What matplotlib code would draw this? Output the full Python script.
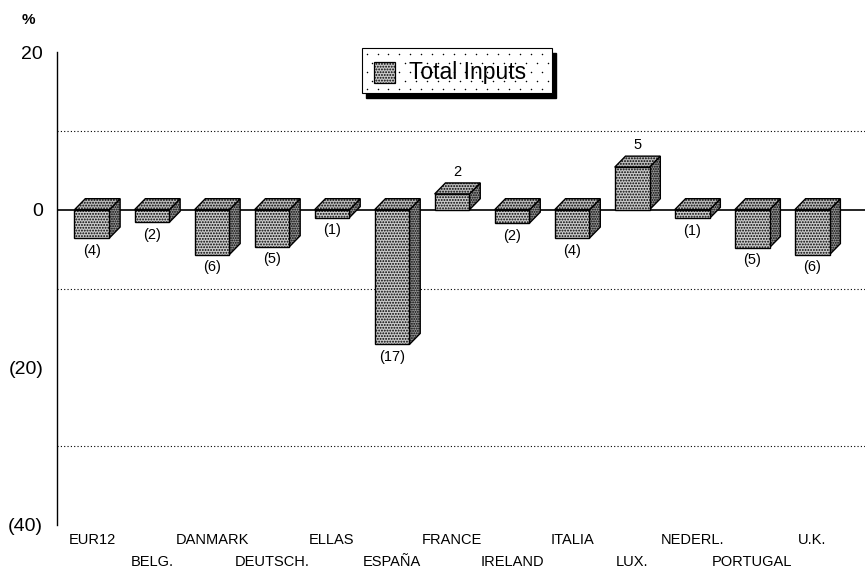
import numpy as np
import matplotlib.pyplot as plt
from matplotlib.patches import Polygon, Rectangle

# values (% change)
countries = ['EUR12', 'BELG.', 'DANMARK', 'DEUTSCH.', 'ELLAS', 'ESPAÑA', 'FRANCE',
             'IRELAND', 'ITALIA', 'LUX.', 'NEDERL.', 'PORTUGAL', 'U.K.']
total_inputs = [-3.6, -1.6, -5.7, -4.7, -1.0, -17.1, 2.0,
                -1.7, -3.6, 5.4, -1.1, -4.8, -5.7]
yticks = [20, 0, -20, -40]
ytick_labels = ['20', '0', '(20)', '(40)']

plt.rcParams['font.family'] = ['Liberation Sans', 'DejaVu Sans']
plt.rcParams['hatch.color'] = '#303030'
plt.rcParams['hatch.linewidth'] = 0.9

fig = plt.figure(figsize=(8.65, 5.73), dpi=100)
ax = fig.add_axes([0.066, 0.084, 0.934, 0.825])

w = 0.58      # bar width
dx = 0.18     # depth (x)
dy = 1.4      # depth (y)
front_col = '#cacaca'
side_col = '#949494'
top_col = '#bababa'

x = list(range(len(countries)))
ax.bar(x, total_inputs, width=w, color=front_col, edgecolor='black',
       linewidth=1.0, hatch='......', zorder=3)

for xi, v in zip(x, total_inputs):
    lo, hi = min(v, 0), max(v, 0)
    r = xi + w / 2
    side = Polygon([(r, lo), (r, hi), (r + dx, hi + dy), (r + dx, lo + dy)],
                   closed=True, facecolor=side_col, edgecolor='black',
                   linewidth=1.0, hatch='.......', zorder=2)
    top = Polygon([(xi - w / 2, hi), (r, hi), (r + dx, hi + dy),
                   (xi - w / 2 + dx, hi + dy)],
                  closed=True, facecolor=top_col, edgecolor='black',
                  linewidth=1.0, hatch='......', zorder=2)
    ax.add_patch(side)
    ax.add_patch(top)
    n = int(abs(v) + 0.5)
    if v < 0:
        ax.annotate('(%d)' % n, (xi, v), xytext=(0, -4), textcoords='offset points',
                    ha='center', va='top', fontsize=10.5)
    else:
        ax.annotate('%d' % n, (xi + dx / 2, v + dy), xytext=(0, 3),
                    textcoords='offset points', ha='center', va='bottom', fontsize=10.5)

# grid lines
for g in [10, -10, -30]:
    ax.axhline(g, color='black', linestyle=(0, (1, 2)), linewidth=0.8, zorder=1)
ax.axhline(0, color='black', linewidth=1.2, zorder=1)

ax.set_xlim(-0.58, 12.88)
ax.set_ylim(-40, 20)
ax.set_yticks(yticks)
ax.set_yticklabels(ytick_labels, fontsize=14)

# two staggered rows of country labels
ax.set_xticks(x[0::2])
ax.set_xticklabels(countries[0::2], fontsize=10.5)
ax.set_xticks(x[1::2], minor=True)
ax.set_xticklabels(countries[1::2], minor=True, fontsize=10.5)
ax.tick_params(axis='both', which='both', length=0)
ax.tick_params(axis='x', which='major', pad=6)
ax.tick_params(axis='x', which='minor', pad=22)
ax.tick_params(axis='y', pad=10)
for s in ['top', 'right', 'bottom']:
    ax.spines[s].set_visible(False)
ax.spines['left'].set_linewidth(1.0)

fig.text(0.025, 0.965, '%', fontsize=11, fontweight='bold', ha='left', va='center')

# legend box drawn by hand: dotted background and solid black shadow
lx0, lx1, ly0, ly1 = 0.377, 0.613, 0.913, 1.008
sh_x, sh_y = 0.005, -0.009
ax.add_patch(Rectangle((lx0 + sh_x, ly0 + sh_y), lx1 - lx0, ly1 - ly0,
                       transform=ax.transAxes, facecolor='black', edgecolor='black',
                       clip_on=False, zorder=5))
ax.add_patch(Rectangle((lx0, ly0), lx1 - lx0, ly1 - ly0, transform=ax.transAxes,
                       facecolor='white', edgecolor='black', linewidth=0.8,
                       clip_on=False, zorder=6))
dot_x, dot_y = [], []
for j, yy in enumerate(np.arange(ly0 + 0.008, ly1 - 0.004, 0.019)):
    for xx in np.arange(lx0 + 0.006 + (j % 2) * 0.0068, lx1 - 0.004, 0.0136):
        dot_x.append(xx)
        dot_y.append(yy)
ax.scatter(dot_x, dot_y, s=1.2, color='black', transform=ax.transAxes,
           clip_on=False, zorder=7, linewidths=0)
ax.add_patch(Rectangle((0.392, 0.934), 0.026, 0.046, transform=ax.transAxes,
                       facecolor=front_col, edgecolor='black', hatch='......',
                       linewidth=0.9, clip_on=False, zorder=8))
ax.text(0.435, 0.957, 'Total Inputs', transform=ax.transAxes, fontsize=16.5,
        ha='left', va='center', zorder=9)

fig.savefig('out.png', dpi=100)
